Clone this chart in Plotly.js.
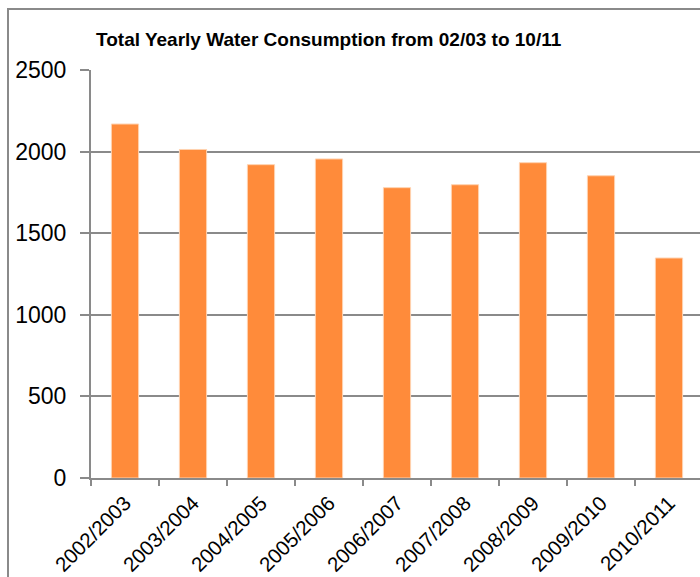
<!DOCTYPE html>
<html>
<head>
<meta charset="utf-8">
<script src="https://cdn.plot.ly/plotly-3.0.1.min.js"></script>
<style>
html,body{margin:0;padding:0;overflow:hidden;background:#fff;}
#chart{width:710px;height:577px;}
</style>
</head>
<body>
<div id="chart"></div>
<script>
var categories = ["2002/2003","2003/2004","2004/2005","2005/2006","2006/2007","2007/2008","2008/2009","2009/2010","2010/2011"];
var consumption = [2169, 2013, 1920, 1955, 1779, 1797, 1932, 1852, 1348];
var yTicks = [0, 500, 1000, 1500, 2000, 2500];
var chartTitle = "Total Yearly Water Consumption from 02/03 to 10/11";

var W = 710, H = 577;
var trace = {
  type: "bar",
  x: categories,
  y: consumption,
  marker: {color: "#FF8B3A", line: {color: "#FFD2B0", width: 1}},
  hoverinfo: "x+y"
};
var layout = {
  width: W, height: H,
  margin: {l: 91, r: 7, t: 70, b: 99},
  paper_bgcolor: "#fff", plot_bgcolor: "#fff",
  bargap: 0.6,
  showlegend: false,
  font: {family: "Liberation Sans, Arial, sans-serif", color: "#000"},
  title: {
    text: chartTitle,
    font: {family: "Liberation Sans, Arial, sans-serif", size: 19, weight: "bold", color: "#000"},
    xref: "container", yref: "container",
    x: 96 / W, xanchor: "left",
    y: 1 - 39 / H, yanchor: "middle"
  },
  xaxis: {
    type: "category",
    tickangle: -45,
    tickfont: {size: 20.5},
    ticks: "outside", ticklen: 6, tickwidth: 2, tickcolor: "#8a8a8a",
    tickson: "boundaries",
    ticklabelstandoff: 3,
    showline: true, linecolor: "#8a8a8a", linewidth: 2,
    showgrid: false, zeroline: false,
    fixedrange: true
  },
  yaxis: {
    range: [0, 2500],
    tickvals: yTicks,
    tickfont: {size: 23},
    ticks: "outside", ticklen: 9, tickwidth: 2, tickcolor: "#8a8a8a",
    ticklabelstandoff: 9,
    showline: true, linecolor: "#8a8a8a", linewidth: 2,
    showgrid: true, gridcolor: "#8a8a8a", gridwidth: 2,
    zeroline: false,
    fixedrange: true
  },
  shapes: [{
    type: "rect", xref: "paper", yref: "paper",
    x0: (8 - 91) / 612, x1: 1.2,
    y0: -0.5, y1: (478 - 9) / 408,
    line: {color: "#8a8a8a", width: 2},
    fillcolor: "rgba(0,0,0,0)",
    layer: "below"
  }]
};
Plotly.newPlot("chart", [trace], layout, {displayModeBar: false, staticPlot: true});
</script>
</body>
</html>
